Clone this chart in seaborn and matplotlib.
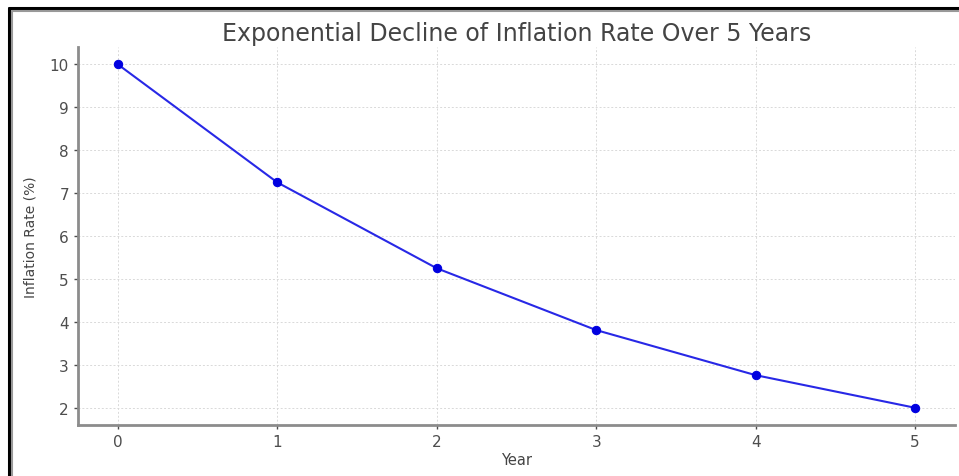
import numpy as np
import pandas as pd
import matplotlib
matplotlib.use("Agg")
import matplotlib.pyplot as plt
from matplotlib.lines import Line2D
import seaborn as sns

years = [0, 1, 2, 3, 4, 5]
inflation = [10.0, 7.25, 5.25, 3.81, 2.76, 2.0]

df = pd.DataFrame({"Year": years, "Inflation Rate (%)": inflation})

sns.set_style("whitegrid", {
    "grid.linestyle": (0, (2, 2)),
    "grid.color": "#d9d9d9",
    "axes.edgecolor": "#8c8c8c",
})
plt.rcParams['font.family'] = ['DejaVu Sans']

fig = plt.figure(figsize=(9.59, 4.77), dpi=100)
ax = fig.add_axes([0.0813, 0.107, 0.9145, 0.792])

sns.lineplot(data=df, x="Year", y="Inflation Rate (%)", ax=ax,
             color="#2828e6", marker="o", markersize=6,
             markeredgecolor="#0000e0", markerfacecolor="#0000e0",
             linewidth=1.5)

ax.set_xticks(years)
ax.set_yticks(range(2, 11))
ax.margins(x=0.05, y=0.05)
ax.grid(True, linewidth=0.7)
ax.tick_params(colors="#4d4d4d", labelsize=11, length=3, width=1, bottom=True, left=True)
for side in ["top", "right"]:
    ax.spines[side].set_visible(False)
for side in ["left", "bottom"]:
    ax.spines[side].set_linewidth(2)
    ax.spines[side].set_color("#8c8c8c")

ax.set_title("Exponential Decline of Inflation Rate Over 5 Years",
             fontsize=17, color="#444444", pad=5)
ax.set_xlabel("Year", fontsize=10.5, color="#444444", labelpad=2)
ax.set_ylabel("Inflation Rate (%)", fontsize=10, color="#444444", labelpad=9)

# screenshot frame on the left and top edges
fig.add_artist(Line2D([8.5 / 959, 8.5 / 959], [0, 1 - 9 / 477], color="black", linewidth=2.2, transform=fig.transFigure))
fig.add_artist(Line2D([8.5 / 959, 1], [1 - 9 / 477, 1 - 9 / 477], color="black", linewidth=2.2, transform=fig.transFigure))
fig.add_artist(Line2D([11.5 / 959, 11.5 / 959], [0, 1 - 12 / 477], color="#999999", linewidth=1.5, transform=fig.transFigure))
fig.add_artist(Line2D([11.5 / 959, 1], [1 - 12 / 477, 1 - 12 / 477], color="#999999", linewidth=1.5, transform=fig.transFigure))

fig.savefig("out.png", dpi=100)
